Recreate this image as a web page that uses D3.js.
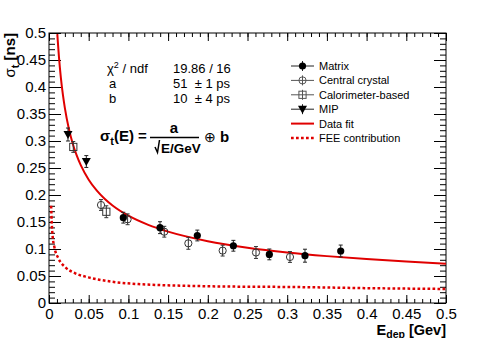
<!DOCTYPE html>
<html><head><meta charset="utf-8">
<script src="https://cdn.jsdelivr.net/npm/d3@7"></script>
<style>body{margin:0;background:#fff}svg{display:block;font-family:"Liberation Sans",Arial,sans-serif}</style>
</head><body>
<svg id="c" width="496" height="338"></svg>
<script>
// ---- data ----
const matrixE   = [0.0936, 0.1398, 0.1868, 0.2322, 0.2775, 0.3224, 0.3674];
const matrixS   = [0.158, 0.1395, 0.125, 0.106, 0.090, 0.0876, 0.0963];
const matrixErr = [0.010, 0.011, 0.010, 0.010, 0.010, 0.012, 0.011];

const centralE   = [0.0655, 0.099, 0.1452, 0.1755, 0.2187, 0.2607, 0.3035];
const centralS   = [0.1815, 0.155, 0.132, 0.1105, 0.097, 0.0935, 0.0852];
const centralErr = [0.010, 0.010, 0.010, 0.011, 0.010, 0.011, 0.010];

const caloE   = [0.0306, 0.0722];
const caloS   = [0.289, 0.169];
const caloErr = [0.010, 0.011];

const mipE   = [0.0239, 0.047];
const mipS   = [0.312, 0.262];
const mipErr = [0.012, 0.011];

// data fit curve
const fitE = [0.0105, 0.011, 0.0125, 0.015, 0.0175, 0.02, 0.025, 0.03, 0.035, 0.04, 0.05, 0.06, 0.07, 0.08, 0.1, 0.125, 0.15, 0.2, 0.25, 0.3, 0.35, 0.4, 0.45, 0.5];
const fitS = [0.4978, 0.4864, 0.4563, 0.4165, 0.3857, 0.3608, 0.3227, 0.2946, 0.2728, 0.2552, 0.2283, 0.2084, 0.1930, 0.1806, 0.1616, 0.1446, 0.1321, 0.1145, 0.1025, 0.0936, 0.0868, 0.0813, 0.0767, 0.0728];

// FEE contribution curve
const feeE = [0.0027, 0.0034, 0.0045, 0.0067, 0.0117, 0.020, 0.033, 0.0495, 0.079, 0.1125, 0.144, 0.2, 0.312, 0.4, 0.5];
const feeS = [0.180, 0.150, 0.125, 0.104, 0.083, 0.067, 0.055, 0.0475, 0.0395, 0.035, 0.033, 0.031, 0.0295, 0.0275, 0.026];

const xTicks = [0, 0.05, 0.1, 0.15, 0.2, 0.25, 0.3, 0.35, 0.4, 0.45, 0.5];
const yTicks = [0, 0.05, 0.1, 0.15, 0.2, 0.25, 0.3, 0.35, 0.4, 0.45, 0.5];
const minorTicks = d3.range(0, 51).map(i => i / 100);

const legendLabels = ["Matrix", "Central crystal", "Calorimeter-based", "MIP", "Data fit", "FEE contribution"];
const statsNames  = ["χ² / ndf", "a", "b"];
const statsValues = ["19.86 / 16", "51  ± 1 ps", "10  ± 4 ps"];

// ---- layout ----
const L = 49, R = 446, T = 33, B = 303;
const svg = d3.select("#c");
const x = d3.scaleLinear().domain([0, 0.5]).range([L, R]);
const y = d3.scaleLinear().domain([0, 0.5]).range([B, T]);
const fmt = d => d === 0 ? "0" : String(+d.toFixed(2));
const RED = "#e00000";

svg.append("defs").append("clipPath").attr("id", "clip")
  .append("rect").attr("x", L).attr("y", T).attr("width", R - L).attr("height", B - T);

function styleAxis(g) {
  g.select(".domain").remove();
  g.selectAll("line").attr("stroke", "#000").attr("stroke-width", 1);
  g.selectAll("text").attr("font-size", 15).attr("fill", "#000").attr("font-family", "Liberation Sans, Arial, sans-serif");
}
// bottom
svg.append("g").attr("transform", `translate(0,${B})`)
  .call(d3.axisBottom(x).tickValues(minorTicks).tickFormat("").tickSizeInner(-4).tickSizeOuter(0)).call(styleAxis);
svg.append("g").attr("transform", `translate(0,${B})`)
  .call(d3.axisBottom(x).tickValues(xTicks).tickFormat(fmt).tickSizeInner(-8).tickSizeOuter(0).tickPadding(5)).call(styleAxis);
// top
svg.append("g").attr("transform", `translate(0,${T})`)
  .call(d3.axisTop(x).tickValues(minorTicks).tickFormat("").tickSizeInner(-4).tickSizeOuter(0)).call(styleAxis);
svg.append("g").attr("transform", `translate(0,${T})`)
  .call(d3.axisTop(x).tickValues(xTicks).tickFormat("").tickSizeInner(-8).tickSizeOuter(0)).call(styleAxis);
// left
svg.append("g").attr("transform", `translate(${L},0)`)
  .call(d3.axisLeft(y).tickValues(minorTicks).tickFormat("").tickSizeInner(-6).tickSizeOuter(0)).call(styleAxis);
svg.append("g").attr("transform", `translate(${L},0)`)
  .call(d3.axisLeft(y).tickValues(yTicks).tickFormat(fmt).tickSizeInner(-12).tickSizeOuter(0).tickPadding(3)).call(styleAxis);
// right
svg.append("g").attr("transform", `translate(${R},0)`)
  .call(d3.axisRight(y).tickValues(minorTicks).tickFormat("").tickSizeInner(-6).tickSizeOuter(0)).call(styleAxis);
svg.append("g").attr("transform", `translate(${R},0)`)
  .call(d3.axisRight(y).tickValues(yTicks).tickFormat("").tickSizeInner(-12).tickSizeOuter(0)).call(styleAxis);
// frame
svg.append("rect").attr("x", L).attr("y", T).attr("width", R - L).attr("height", B - T)
  .attr("fill", "none").attr("stroke", "#000").attr("stroke-width", 1);

// axis titles
const xt = svg.append("text").attr("x", R).attr("y", 334.5).attr("text-anchor", "end")
  .attr("font-size", 14.5).attr("font-weight", "bold");
xt.append("tspan").text("E");
xt.append("tspan").attr("font-size", 10.5).attr("dy", 3).text("dep");
xt.append("tspan").attr("dy", -3).text(" [Gev]");

const yt = svg.append("text").attr("transform", `translate(15,${T}) rotate(-90)`).attr("text-anchor", "end")
  .attr("font-size", 15).attr("font-weight", "bold");
yt.append("tspan").attr("font-weight", "normal").text("σ");
yt.append("tspan").attr("font-size", 11).attr("dy", 4).text("t");
yt.append("tspan").attr("dy", -4).text(" [ns]");

// curves
const line = d3.line().x(d => x(d[0])).y(d => y(d[1])).curve(d3.curveMonotoneX);
svg.append("path").attr("clip-path", "url(#clip)")
  .attr("d", line(feeE.map((e, i) => [e, feeS[i]])))
  .attr("fill", "none").attr("stroke", RED).attr("stroke-width", 2.5).attr("stroke-dasharray", "2.7,2.3");
svg.append("path").attr("clip-path", "url(#clip)")
  .attr("d", line(fitE.map((e, i) => [e, fitS[i]])))
  .attr("fill", "none").attr("stroke", RED).attr("stroke-width", 2);

// markers
function marker(g, type, cx, cy, col) {
  if (type === "fcircle") g.append("circle").attr("cx", cx).attr("cy", cy).attr("r", 3.6).attr("fill", "#000");
  else if (type === "ocircle") g.append("circle").attr("cx", cx).attr("cy", cy).attr("r", 3.6).attr("fill", "none").attr("stroke", col).attr("stroke-width", 1);
  else if (type === "osquare") g.append("rect").attr("x", cx - 3.6).attr("y", cy - 3.6).attr("width", 7.2).attr("height", 7.2).attr("fill", "none").attr("stroke", col).attr("stroke-width", 1);
  else if (type === "ftri") g.append("path").attr("d", `M${cx - 4.5},${cy - 3.5}L${cx + 4.5},${cy - 3.5}L${cx},${cy + 4.5}Z`).attr("fill", "#000");
}
function series(E, S, Err, type, col) {
  const g = svg.append("g");
  E.forEach((e, i) => {
    const cx = x(e), y1 = y(S[i] - Err[i]), y2 = y(S[i] + Err[i]);
    g.append("line").attr("x1", cx).attr("x2", cx).attr("y1", y1).attr("y2", y2).attr("stroke", col).attr("stroke-width", 1);
    [y1, y2].forEach(yy => g.append("line").attr("x1", cx - 2).attr("x2", cx + 2).attr("y1", yy).attr("y2", yy).attr("stroke", col).attr("stroke-width", 1));
    marker(g, type, cx, y(S[i]), col);
  });
}
series(centralE, centralS, centralErr, "ocircle", "#333");
series(caloE, caloS, caloErr, "osquare", "#333");
series(mipE, mipS, mipErr, "ftri", "#222");
series(matrixE, matrixS, matrixErr, "fcircle", "#222");

// stats box text
const st = svg.append("g").attr("font-size", 13);
statsNames.forEach((n, i) => {
  const yy = 73 + i * 15;
  const t = st.append("text").attr("x", i === 0 ? 107 : 109).attr("y", yy);
  if (i === 0) {
    t.append("tspan").text("χ");
    t.append("tspan").attr("font-size", 9).attr("dy", -5).text("2");
    t.append("tspan").attr("dy", 5).text(" / ndf");
  } else t.text(n);
  st.append("text").attr("x", 173).attr("y", yy).attr("xml:space", "preserve").style("white-space", "pre").text(statsValues[i]);
});

// formula
const fg = svg.append("g").attr("font-weight", "bold").attr("font-size", 15);
const f1 = fg.append("text").attr("x", 100).attr("y", 141);
f1.append("tspan").text("σ");
f1.append("tspan").attr("font-size", 11).attr("dy", 4).text("t");
f1.append("tspan").attr("dy", -4).text("(E) =");
fg.append("text").attr("x", 174).attr("y", 133).attr("text-anchor", "middle").text("a");
fg.append("line").attr("x1", 150).attr("x2", 199).attr("y1", 137.5).attr("y2", 137.5).attr("stroke", "#000").attr("stroke-width", 1.5);
fg.append("path").attr("d", "M155,147 L157.5,152.5 L159.5,140").attr("fill", "none").attr("stroke", "#000").attr("stroke-width", 1.5);
fg.append("text").attr("x", 161).attr("y", 152.5).attr("font-size", 13.5).text("E/GeV");
fg.append("text").attr("x", 204).attr("y", 142).attr("font-weight", "normal").attr("font-size", 14).text("⊕");
fg.append("text").attr("x", 220).attr("y", 142).text("b");

// legend
const lg = svg.append("g").attr("font-size", 11);
const legTypes = ["fcircle", "ocircle", "osquare", "ftri", "line", "dash"];
const legCols = ["#222", "#555", "#555", "#222", RED, RED];
legendLabels.forEach((lab, i) => {
  const yy = 66 + i * 14.4;
  if (legTypes[i] === "line") {
    lg.append("line").attr("x1", 291).attr("x2", 314).attr("y1", yy).attr("y2", yy).attr("stroke", RED).attr("stroke-width", 2);
  } else if (legTypes[i] === "dash") {
    lg.append("line").attr("x1", 291).attr("x2", 314).attr("y1", yy).attr("y2", yy).attr("stroke", RED).attr("stroke-width", 2.5).attr("stroke-dasharray", "2.7,2.3");
  } else {
    lg.append("line").attr("x1", 291).attr("x2", 314).attr("y1", yy).attr("y2", yy).attr("stroke", legCols[i]).attr("stroke-width", 1);
    lg.append("line").attr("x1", 302.5).attr("x2", 302.5).attr("y1", yy - 5).attr("y2", yy + 5).attr("stroke", legCols[i]).attr("stroke-width", 1);
    marker(lg, legTypes[i], 302.5, yy, legCols[i]);
  }
  lg.append("text").attr("x", 319).attr("y", yy + 4).text(lab);
});
</script>
</body></html>
